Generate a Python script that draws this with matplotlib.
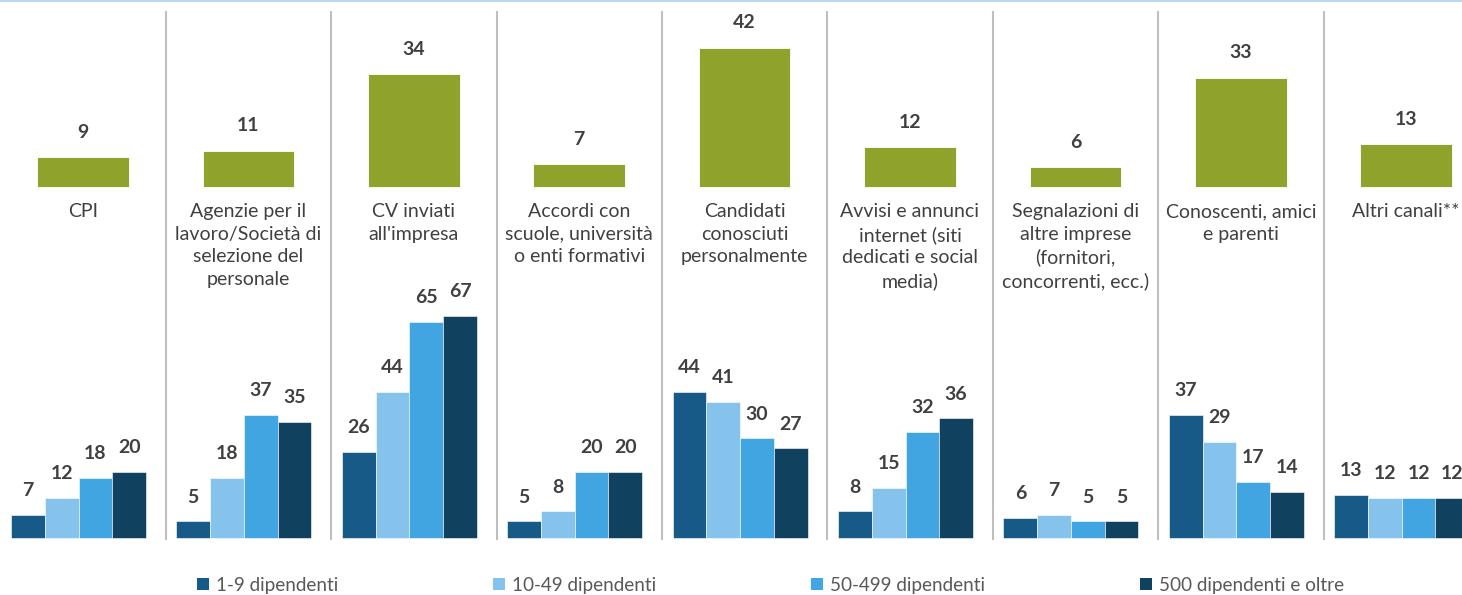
import matplotlib.pyplot as plt
from matplotlib.patches import Rectangle, Patch
import numpy as np

# canali di ricerca del personale
canali = [
    "CPI",
    "Agenzie per il\nlavoro/Società di\nselezione del\npersonale",
    "CV inviati\nall'impresa",
    "Accordi con\nscuole, università\no enti formativi",
    "Candidati\nconosciuti\npersonalmente",
    "Avvisi e annunci\ninternet (siti\ndedicati e social\nmedia)",
    "Segnalazioni di\naltre imprese\n(fornitori,\nconcorrenti, ecc.)",
    "Conoscenti, amici\ne parenti",
    "Altri canali**",
]
totale = [9, 11, 34, 7, 42, 12, 6, 33, 13]

classi = ["1-9 dipendenti", "10-49 dipendenti", "50-499 dipendenti", "500 dipendenti e oltre"]
d_1_9 = [7, 5, 26, 5, 44, 8, 6, 37, 13]
d_10_49 = [12, 18, 44, 8, 41, 15, 7, 29, 12]
d_50_499 = [18, 37, 65, 20, 30, 32, 5, 17, 12]
d_500 = [20, 35, 67, 20, 27, 36, 5, 14, 12]
serie = [d_1_9, d_10_49, d_50_499, d_500]

colori = ["#175A87", "#85C3EC", "#41A5E1", "#10415F"]
verde = "#8FA22B"
testo = "#404040"

plt.rcParams["font.family"] = ["Lato", "DejaVu Sans"]

W, H = 1462, 595
fig = plt.figure(figsize=(W / 100, H / 100), dpi=100)
ax = fig.add_axes([0, 0, 1, 1])

# scala: ~165.4 px per pannello, ~3.32 px per punto percentuale
passo = 165.4
cx0 = 83
scala = 3.32
base_px = 538
ax.set_xlim(-cx0 / passo, (W - cx0) / passo)
ax.set_ylim(-(H - base_px) / scala, base_px / scala)
ax.axis("off")

x = np.arange(len(canali))
base_verde = (base_px - 187.3) / scala

# barre verdi (totale)
ax.bar(x, totale, width=0.555, bottom=base_verde, color=verde, edgecolor="white", linewidth=0.6)
for xi, v in zip(x, totale):
    ax.annotate(str(v), (xi, base_verde + v), xytext=(0, 18), textcoords="offset points",
                ha="center", va="center", fontsize=14, fontweight="bold", color=testo)

# etichette canali
for xi, lab in zip(x, canali):
    ax.text(xi, (base_px - 203) / scala, lab, ha="center", va="top", fontsize=14,
            color=testo, linespacing=1.4)

# barre per classe dimensionale
larg = 0.204
for j, (vals, col) in enumerate(zip(serie, colori)):
    pos = x + (j - 1.5) * larg - 0.027
    ax.bar(pos, vals, width=larg, color=col, edgecolor="white", linewidth=0.4, label=classi[j])
    for p, v in zip(pos, vals):
        ax.annotate(str(v), (p, v), xytext=(0, 17.5), textcoords="offset points",
                    ha="center", va="center", fontsize=14, fontweight="bold", color=testo)

# separatori tra pannelli
ax.vlines(x[:-1] + 0.5, -0.6, (base_px - 11) / scala, color="#BFBFBF", linewidth=1.5)

# linea azzurra in alto
fig.add_artist(Rectangle((0, 1 - 2 / H), 1, 2 / H, transform=fig.transFigure,
                         facecolor="#BDD7EE", edgecolor="none"))

handles = [Patch(facecolor=c) for c in colori]
fig.legend(handles, classi, loc="center", bbox_to_anchor=(0.527, 10 / H), ncol=4, frameon=False,
           fontsize=13.6, labelcolor="#595959", handlelength=0.65, handleheight=0.65,
           handletextpad=0.35, columnspacing=8.2, borderpad=0)

fig.savefig("out.png", dpi=100)
